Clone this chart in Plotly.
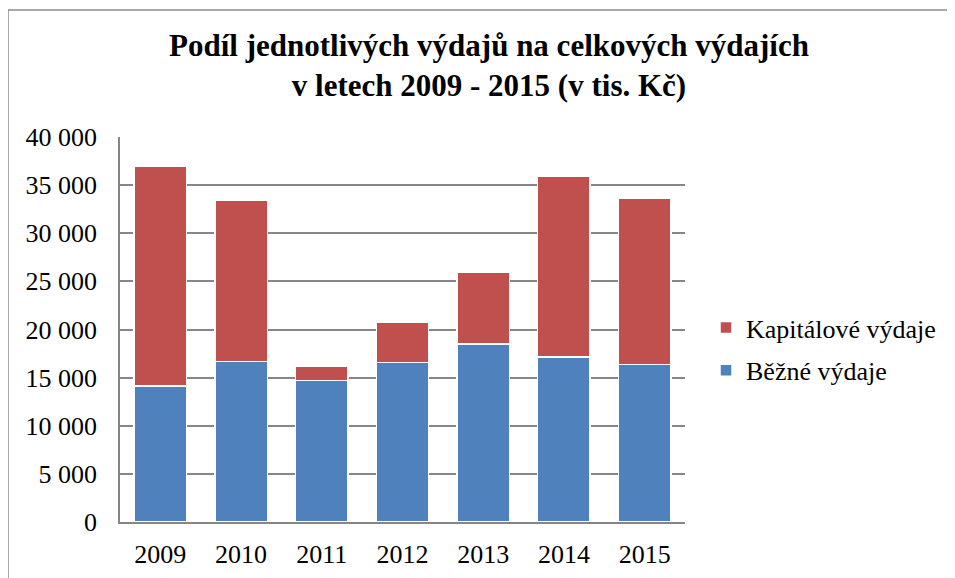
import plotly.graph_objects as go

years = ["2009", "2010", "2011", "2012", "2013", "2014", "2015"]
bezne = [14150, 16700, 14680, 16570, 18500, 17150, 16350]
kapitalove = [22850, 16750, 1550, 4160, 7400, 18790, 17250]
tick_vals = [0, 5000, 10000, 15000, 20000, 25000, 30000, 35000, 40000]
tick_text = ["0", "5 000", "10 000", "15 000", "20 000", "25 000", "30 000", "35 000", "40 000"]

OFF = 8  # page body margin
W, H = 955, 578
L, R, T, B = 120 - OFF, W + OFF - 685, 137 - OFF, H + OFF - 522
pw, ph = W - L - R, H - T - B

def px(x):
    return (x - OFF - L) / pw

def py(y):
    return (H - B - (y - OFF)) / ph

FONT = "Liberation Serif"

fig = go.Figure()
fig.add_trace(go.Bar(x=years, y=bezne, name="Běžné výdaje", legendgroup="b", legendrank=2,
                     marker=dict(color="#4F81BD", line=dict(color="white", width=1.5))))
fig.add_trace(go.Bar(x=years, y=kapitalove, name="Kapitálové výdaje", legendgroup="k", legendrank=1,
                     marker=dict(color="#C0504D", line=dict(color="white", width=1.5))))

fig.update_layout(
    width=W, height=H,
    barmode="stack", bargap=0.35,
    margin=dict(l=L, r=R, t=T, b=B),
    paper_bgcolor="white", plot_bgcolor="white",
    font=dict(family=FONT, color="black", size=26),
    title=dict(text="<b>Podíl jednotlivých výdajů na celkových výdajích<br>v letech 2009 - 2015 (v tis. Kč)</b>",
               x=(489 - OFF) / W, xanchor="center", y=1 - (56 - OFF) / H, yanchor="middle",
               font=dict(family=FONT, size=31, color="black")),
    showlegend=True,
    legend=dict(x=px(706), y=py(349), xanchor="left", yanchor="middle",
                traceorder="grouped", font=dict(family=FONT, size=26, color="black"),
                itemwidth=30, tracegroupgap=6, bgcolor="rgba(0,0,0,0)"),
    xaxis=dict(showline=True, linecolor="#868686", linewidth=1.5, ticks="",
               ticklabelstandoff=8,
               tickfont=dict(family=FONT, size=26, color="black"), showgrid=False),
    yaxis=dict(range=[0, 40000], tickvals=tick_vals, ticktext=tick_text,
               showgrid=True, gridcolor="#868686", gridwidth=1.5,
               showline=True, linecolor="#868686", linewidth=1.5, ticks="",
               ticklabelstandoff=16,
               tickfont=dict(family=FONT, size=26, color="black"), zeroline=False),
)

fig.add_shape(type="rect", xref="paper", yref="paper",
              x0=px(8), x1=px(W + 30), y0=py(H + 30), y1=py(10),
              line=dict(color="#8c8c8c", width=1.5), layer="below")

fig.write_html("out.html")
